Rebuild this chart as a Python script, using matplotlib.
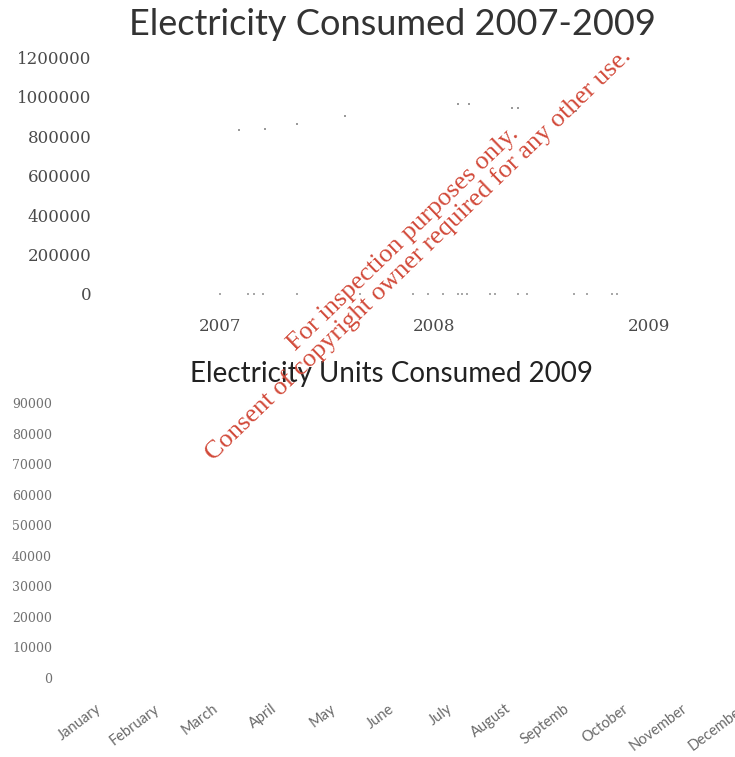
import matplotlib
matplotlib.use("Agg")
import matplotlib.pyplot as plt

# ---- data (most of the marks have faded away) ----
years = [2007, 2008, 2009]
upper_x = [2007.09, 2007.21, 2007.36, 2007.58, 2008.11, 2008.16, 2008.36, 2008.39, 2008.66]
upper_y = [830000, 835000, 861000, 901000, 962000, 962000, 942000, 942000, 927000]
zero_x = [2007.00, 2007.13, 2007.16, 2007.20, 2007.36, 2007.65, 2007.90, 2007.97,
          2008.04, 2008.11, 2008.13, 2008.15, 2008.26, 2008.28, 2008.39, 2008.43,
          2008.65, 2008.71, 2008.83, 2008.85]
zero_y = [0] * len(zero_x)
top_yticks = [0, 200000, 400000, 600000, 800000, 1000000, 1200000]

months = ["January", "February", "March", "April", "May", "June", "July",
          "August", "Septemb", "October", "November", "December"]
bottom_yticks = [0, 10000, 20000, 30000, 40000, 50000, 60000, 70000, 80000, 90000]

W, H = 735, 757
fig = plt.figure(figsize=(W / 100, H / 100), dpi=100)


def box(l, t, r, b):
    # pixel box -> figure fraction
    return [l / W, 1 - b / H, (r - l) / W, (b - t) / H]


SERIF = ["DejaVu Serif"]

# ---------------- top chart ----------------
ax = fig.add_axes(box(100, 57, 735, 294))
ax.scatter(upper_x, upper_y, s=3, marker="s", color="#9a9a9a", lw=0)
ax.scatter(zero_x, zero_y, s=3, marker="s", color="#a8a8a8", lw=0, clip_on=False)
ax.set_xlim(2007 - 120 / 214, 2009 + 86 / 214)
ax.set_ylim(0, 1200000)
ax.set_xticks(years)
ax.set_xticklabels([str(y) for y in years])
ax.set_yticks(top_yticks)
ax.set_yticklabels([str(v) for v in top_yticks])
ax.tick_params(length=0, labelsize=12, labelcolor="#4a4a4a")
ax.tick_params(axis="y", pad=6)
ax.tick_params(axis="x", pad=17)
for lab in ax.get_xticklabels() + ax.get_yticklabels():
    lab.set_family(SERIF)
for s in ax.spines.values():
    s.set_visible(False)

fig.text(392 / W, 1 - 35 / H, "Electricity Consumed 2007-2009", ha="center",
         va="baseline", fontsize=26, family="Lato", color="#333333")

# ---------------- bottom chart ----------------
bx = fig.add_axes(box(66, 403, 769, 678))
bx.set_xlim(-0.5, len(months) - 0.5)
bx.set_ylim(0, 90000)
bx.set_xticks(range(len(months)))
bx.set_xticklabels(months, rotation=37, ha="right", rotation_mode="anchor",
                   fontsize=10.5, family="Lato", color="#6a6a6a")
bx.set_yticks(bottom_yticks)
bx.set_yticklabels([str(v) for v in bottom_yticks])
bx.tick_params(length=0)
bx.tick_params(axis="y", pad=10, labelsize=9, labelcolor="#707070")
bx.tick_params(axis="x", pad=17)
for lab in bx.get_yticklabels():
    lab.set_family(SERIF)
for s in bx.spines.values():
    s.set_visible(False)

fig.text(391 / W, 1 - 382 / H, "Electricity Units Consumed 2009", ha="center",
         va="baseline", fontsize=20, family="Lato", color="#222222")

# ---------------- watermark ----------------
fig.text(411 / W, 1 - 247 / H,
         "For inspection purposes only.\nConsent of copyright owner required for any other use.",
         rotation=44, ha="center", va="center", multialignment="center",
         rotation_mode="anchor", fontsize=19, family="Liberation Serif",
         color="#d24a3a", linespacing=1.0)

fig.savefig("out.png", dpi=100)
